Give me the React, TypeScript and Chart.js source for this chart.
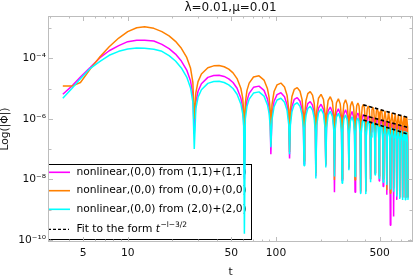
import React, { useEffect, useRef } from 'react';
import { Chart, registerables } from 'chart.js';

Chart.register(...registerables);

const FONT = '"DejaVu Sans", sans-serif';

// time samples (shared by the three curves)
const tValues = [
  3.65, 4.2, 4.8, 5.6, 6.5, 7.5, 8.7, 10, 11.5, 13, 15, 17, 19, 21, 23, 25, 26.5, 27.5, 28.1,
  28.8, 29.8, 31.4, 34.7, 38.0, 41.3, 44.7, 48.0, 51.3, 54.6, 57.9, 59.6, 60.5, 61.2,
  62.1, 63.7, 65.9, 70.5, 76.8, 83.0, 87.6, 89.8, 91.4, 92.3,
  93.9, 97.0, 101.6, 107.9, 114.1, 118.7, 121.9, 123.4,
  125.0, 128.1, 132.7, 139.0, 145.2, 149.8, 153.0, 154.5,
  156.1, 159.2, 163.8, 170.1, 176.3, 180.9, 184.1, 185.6,
  188.1, 193.4, 201.2, 208.9, 214.2, 216.7,
  219.2, 224.5, 232.3, 240.0, 245.3, 247.8,
  250.3, 255.6, 263.4, 271.1, 276.4, 278.9,
  281.4, 286.7, 294.5, 302.2, 307.5, 310.0,
  312.5, 317.8, 325.6, 333.3, 338.6, 341.1,
  344.2, 350.4, 356.7, 362.9, 369.1, 372.2,
  375.3, 381.5, 387.8, 394.0, 400.2, 403.3,
  406.4, 412.6, 418.9, 425.1, 431.3, 434.4,
  437.5, 443.7, 450.0, 456.2, 462.4, 465.5,
  468.6, 474.8, 481.1, 487.3, 493.5, 496.6,
  499.7, 505.9, 512.2, 518.4, 524.6, 527.7,
  532.4, 543.3, 554.1, 558.8,
  563.5, 574.4, 585.2, 589.9,
  594.6, 605.5, 616.3, 621.0,
  625.7, 636.6, 647.4, 652.1,
  656.8, 667.7, 678.5, 683.2,
  687.9, 698.8, 709.6, 714.3,
  719.0, 729.9, 740.7, 745.4,
  750.1, 761.0, 771.8, 776.5,
];

// log10|Phi| : (0,0) from (1,1)+(1,1)  (magenta)
const logPhiFrom11 = [
  -5.19, -4.92, -4.62, -4.30, -3.98, -3.75, -3.58, -3.45, -3.40, -3.40, -3.43, -3.54, -3.68, -3.86, -4.09, -4.39, -4.74, -5.22, -6.5,
  -5.46, -5.09, -4.84, -4.63, -4.57, -4.56, -4.60, -4.68, -4.80, -4.99, -5.31, -5.63, -6.04, -8.0,
  -5.81, -5.40, -5.16, -4.96, -4.92, -5.06, -5.35, -5.63, -6.06, -7.17,
  -5.86, -5.42, -5.20, -5.14, -5.27, -5.54, -6.02, -7.31,
  -6.04, -5.59, -5.36, -5.30, -5.42, -5.69, -6.17, -7.5,
  -6.18, -5.73, -5.50, -5.43, -5.55, -5.81, -6.29, -7.9,
  -6.08, -5.65, -5.52, -5.69, -6.16, -7.55,
  -6.18, -5.74, -5.61, -5.78, -6.25, -8.43,
  -6.24, -5.80, -5.67, -5.84, -6.30, -8.05,
  -6.28, -5.84, -5.70, -5.87, -6.33, -7.65,
  -6.34, -5.90, -5.76, -5.93, -6.39, -8.43,
  -6.30, -5.89, -5.81, -5.91, -6.34, -8.45,
  -6.35, -5.94, -5.86, -5.96, -6.39, -8.4,
  -6.40, -5.99, -5.91, -6.01, -6.44, -8.0,
  -6.44, -6.03, -5.95, -6.05, -6.48, -7.8,
  -6.48, -6.07, -5.99, -6.09, -6.52, -8.06,
  -6.52, -6.11, -6.03, -6.13, -6.56, -8.24,
  -6.40, -6.07, -6.42, -8.51,
  -6.43, -6.10, -6.45, -9.52,
  -6.46, -6.13, -6.48, -9.23,
  -6.49, -6.16, -6.51, -8.68,
  -6.52, -6.19, -6.54, -8.6,
  -6.55, -6.22, -6.57, -8.6,
  -6.57, -6.24, -6.59, -8.6,
  -6.60, -6.27, -6.62, -8.6,
];

// log10|Phi| : (0,0) from (0,0)+(0,0)  (orange)
const logPhiFrom00 = [
  -4.92, -4.92, -4.80, -4.35, -3.95, -3.62, -3.33, -3.12, -2.99, -2.96, -3.01, -3.12, -3.26, -3.44, -3.67, -3.97, -4.32, -4.80, -6.0,
  -5.14, -4.77, -4.52, -4.31, -4.25, -4.24, -4.28, -4.36, -4.48, -4.67, -4.99, -5.31, -5.72, -7.5,
  -5.47, -5.06, -4.82, -4.62, -4.58, -4.72, -5.01, -5.29, -5.72, -6.85,
  -5.54, -5.10, -4.88, -4.82, -4.95, -5.22, -5.70, -7.1,
  -5.71, -5.26, -5.03, -4.97, -5.09, -5.36, -5.84, -7.4,
  -5.85, -5.40, -5.17, -5.10, -5.22, -5.48, -5.96, -7.8,
  -5.75, -5.32, -5.19, -5.36, -5.83, -7.5,
  -5.84, -5.40, -5.27, -5.44, -5.91, -8.02,
  -5.91, -5.47, -5.34, -5.51, -5.97, -8.0,
  -5.95, -5.51, -5.37, -5.54, -6.00, -7.6,
  -6.01, -5.57, -5.43, -5.60, -6.06, -8.02,
  -5.97, -5.56, -5.48, -5.58, -6.01, -8.4,
  -6.02, -5.61, -5.53, -5.63, -6.06, -8.4,
  -6.07, -5.66, -5.58, -5.68, -6.11, -8.0,
  -6.11, -5.70, -5.62, -5.72, -6.15, -7.8,
  -6.15, -5.74, -5.66, -5.76, -6.19, -7.9,
  -6.19, -5.78, -5.70, -5.80, -6.23, -8.0,
  -6.07, -5.74, -6.09, -8.35,
  -6.10, -5.77, -6.12, -8.46,
  -6.13, -5.80, -6.15, -8.3,
  -6.16, -5.83, -6.18, -8.5,
  -6.19, -5.86, -6.21, -8.6,
  -6.22, -5.89, -6.24, -8.6,
  -6.24, -5.91, -6.26, -8.6,
  -6.27, -5.94, -6.29, -8.6,
];

// log10|Phi| : (0,0) from (2,0)+(2,0)  (cyan)
const logPhiFrom20 = [
  -5.32, -5.00, -4.68, -4.33, -4.10, -3.90, -3.77, -3.69, -3.66, -3.67, -3.70, -3.77, -3.91, -4.09, -4.32, -4.62, -4.97, -5.45, -7.0,
  -5.66, -5.29, -5.04, -4.83, -4.77, -4.76, -4.80, -4.88, -5.00, -5.19, -5.51, -5.83, -6.24, -9.8,
  -6.00, -5.59, -5.35, -5.15, -5.11, -5.25, -5.54, -5.82, -6.25, -6.94,
  -6.04, -5.60, -5.38, -5.32, -5.45, -5.72, -6.20, -7.17,
  -6.21, -5.76, -5.53, -5.47, -5.59, -5.86, -6.34, -7.55,
  -6.34, -5.89, -5.66, -5.59, -5.71, -5.97, -6.45, -7.97,
  -6.23, -5.80, -5.67, -5.84, -6.31, -7.61,
  -6.32, -5.88, -5.75, -5.92, -6.39, -7.91,
  -6.39, -5.95, -5.82, -5.99, -6.45, -8.13,
  -6.45, -6.01, -5.87, -6.04, -6.50, -7.70,
  -6.51, -6.07, -5.93, -6.10, -6.56, -7.91,
  -6.47, -6.06, -5.98, -6.08, -6.51, -8.49,
  -6.52, -6.11, -6.03, -6.13, -6.56, -8.49,
  -6.57, -6.16, -6.08, -6.18, -6.61, -8.10,
  -6.61, -6.20, -6.12, -6.22, -6.65, -7.86,
  -6.65, -6.24, -6.16, -6.26, -6.69, -7.97,
  -6.69, -6.28, -6.20, -6.30, -6.73, -8.10,
  -6.57, -6.24, -6.59, -8.19,
  -6.60, -6.27, -6.62, -8.32,
  -6.63, -6.30, -6.65, -8.41,
  -6.66, -6.33, -6.68, -8.57,
  -6.69, -6.36, -6.71, -8.65,
  -6.72, -6.39, -6.74, -8.68,
  -6.74, -6.41, -6.76, -8.68,
  -6.77, -6.44, -6.79, -8.68,
];

// fits to t^(-l-3/2)
const fitT = [388, 780];
const fitLogFrom00 = [-5.54, -5.96];
const fitLogFrom11 = [-5.88, -6.29];
const fitLogFrom20 = [-6.04, -6.51];

const xLabelTicks = [5, 10, 50, 100, 500];
const xMinorTicks = [3, 4, 6, 7, 8, 9, 20, 30, 40, 60, 70, 80, 90, 200, 300, 400, 600, 700, 800];
const yLabelTicks = [1e-4, 1e-6, 1e-8, 1e-10];
const yMinorTicks = [1e-3, 1e-5, 1e-7, 1e-9];

const titleText = 'λ=0.01,μ=0.01';
const xTitle = 't';
const yTitle = 'Log(|Φ|)';
const seriesNames = [
  'nonlinear,(0,0) from (1,1)+(1,1)',
  'nonlinear,(0,0) from (0,0)+(0,0)',
  'nonlinear,(0,0) from (2,0)+(2,0)',
];
const fitName = 'Fit to the form ';
const fitVar = 't';
const fitExponent = '−l−3/2';
const seriesColors = ['#ff00ff', '#ff8000', '#00ffff'];

const SUP: Record<string, string> = {
  '0': '⁰', '1': '¹', '2': '²', '3': '³', '4': '⁴', '5': '⁵', '6': '⁶', '7': '⁷', '8': '⁸', '9': '⁹', '-': '⁻',
};
function powerLabel(v: number): string {
  const e = Math.round(Math.log10(v));
  return '10' + String(e).split('').map((c) => SUP[c] || c).join('');
}

const toPoints = (xs: number[], logs: number[]) => xs.map((x, i) => ({ x, y: Math.pow(10, logs[i]) }));

const legendPlugin = {
  id: 'mmaLegend',
  beforeDatasetsDraw(chart: any) {
    const { ctx, chartArea } = chart;
    const x0 = Math.round(chartArea.left);
    const y0 = Math.round(chartArea.bottom) - 78;
    const w = 203;
    const h = 75;
    ctx.save();
    ctx.fillStyle = '#ffffff';
    ctx.fillRect(x0, y0, w, h);
    ctx.strokeStyle = '#000000';
    ctx.lineWidth = 1;
    ctx.strokeRect(x0 + 0.5, y0 + 0.5, w, h);
    const rows = [8.3, 26.7, 45.3, 65.3];
    const textX = x0 + 28.4;
    ctx.font = `10.7px ${FONT}`;
    ctx.textBaseline = 'middle';
    ctx.textAlign = 'left';
    for (let i = 0; i < 3; i++) {
      const yy = y0 + rows[i];
      ctx.strokeStyle = seriesColors[i];
      ctx.lineWidth = 1.6;
      ctx.beginPath();
      ctx.moveTo(x0, yy);
      ctx.lineTo(x0 + 22, yy);
      ctx.stroke();
      ctx.fillStyle = '#000';
      ctx.fillText(seriesNames[i], textX, yy);
    }
    const yf = y0 + rows[3];
    ctx.strokeStyle = '#000';
    ctx.lineWidth = 1.2;
    ctx.setLineDash([3, 2]);
    ctx.beginPath();
    ctx.moveTo(x0, yf);
    ctx.lineTo(x0 + 21, yf);
    ctx.stroke();
    ctx.setLineDash([]);
    ctx.fillStyle = '#000';
    ctx.fillText(fitName, textX, yf);
    let cx = textX + ctx.measureText(fitName).width;
    ctx.font = `italic 10.7px ${FONT}`;
    ctx.fillText(fitVar, cx, yf);
    cx += ctx.measureText(fitVar).width + 0.5;
    ctx.font = `7.5px ${FONT}`;
    ctx.fillText(fitExponent, cx, yf - 4.5);
    ctx.restore();
  },
};

const framePlugin = {
  id: 'mmaFrame',
  afterDatasetsDraw(chart: any) {
    const { ctx, chartArea, scales } = chart;
    const { left, right, top, bottom } = chartArea;
    const x = scales.x;
    const y = scales.y;
    ctx.save();
    ctx.strokeStyle = '#bdbdbd';
    ctx.lineWidth = 1;
    ctx.strokeRect(left + 0.5, top + 0.5, right - left - 1, bottom - top - 1);
    ctx.beginPath();
    const xt = (v: number, len: number) => {
      const px = Math.round(x.getPixelForValue(v)) + 0.5;
      ctx.moveTo(px, bottom);
      ctx.lineTo(px, bottom - len);
      ctx.moveTo(px, top);
      ctx.lineTo(px, top + len);
    };
    const yt = (v: number, len: number) => {
      const py = Math.round(y.getPixelForValue(v)) + 0.5;
      ctx.moveTo(left, py);
      ctx.lineTo(left + len, py);
      ctx.moveTo(right, py);
      ctx.lineTo(right - len, py);
    };
    xLabelTicks.forEach((v) => xt(v, 5));
    xMinorTicks.forEach((v) => xt(v, 2.5));
    yLabelTicks.forEach((v) => yt(v, 5));
    yMinorTicks.forEach((v) => yt(v, 3.5));
    ctx.stroke();
    ctx.restore();
  },
};

export default function App() {
  const ref = useRef<HTMLCanvasElement>(null);

  useEffect(() => {
    document.body.style.margin = '0';
    const canvas = ref.current;
    if (!canvas) return;
    const lineBase = { pointRadius: 0, borderWidth: 1.5, tension: 0, fill: false, borderJoinStyle: 'bevel' as const };
    const fitBase = { pointRadius: 0, borderWidth: 1.6, borderColor: '#000', borderDash: [3.5, 2.5], fill: false, order: 0 };
    const chart = new Chart(canvas, {
      type: 'line',
      data: {
        datasets: [
          { ...fitBase, label: 'fit (0,0)', data: toPoints(fitT, fitLogFrom00) },
          { ...fitBase, label: 'fit (1,1)', data: toPoints(fitT, fitLogFrom11) },
          { ...fitBase, label: 'fit (2,0)', data: toPoints(fitT, fitLogFrom20) },
          { ...lineBase, label: seriesNames[2], borderColor: seriesColors[2], data: toPoints(tValues, logPhiFrom20), order: 1 },
          { ...lineBase, label: seriesNames[1], borderColor: seriesColors[1], data: toPoints(tValues, logPhiFrom00), order: 2 },
          { ...lineBase, label: seriesNames[0], borderColor: seriesColors[0], data: toPoints(tValues, logPhiFrom11), order: 3 },
        ] as any,
      },
      options: {
        responsive: false,
        devicePixelRatio: 1,
        animation: false,
        events: [],
        layout: { padding: { top: 0, right: 3, bottom: 0, left: 0 } },
        plugins: {
          legend: { display: false },
          tooltip: { enabled: false },
          title: {
            display: true,
            text: titleText,
            color: '#111',
            fullSize: false,
            font: { family: FONT, size: 12, weight: 'normal', lineHeight: 1.2 },
            padding: { top: 1, bottom: 0.6 },
          },
        },
        scales: {
          x: {
            type: 'logarithmic',
            position: 'bottom',
            min: 2.9,
            max: 839,
            afterBuildTicks: (axis: any) => {
              axis.ticks = xLabelTicks.map((value) => ({ value }));
            },
            afterFit: (axis: any) => {
              axis.height = 34;
            },
            grid: { display: false, drawTicks: false },
            border: { display: false },
            ticks: {
              autoSkip: false,
              maxRotation: 0,
              padding: 5,
              color: '#111',
              font: { family: FONT, size: 10.7 },
              callback: (v: any) => String(v),
            },
            title: {
              display: true,
              text: xTitle,
              color: '#111',
              font: { family: FONT, size: 10.7, lineHeight: 0.7 },
              padding: 0,
            },
          },
          y: {
            type: 'logarithmic',
            min: 8.46e-11,
            max: 2.5e-3,
            afterBuildTicks: (axis: any) => {
              axis.ticks = yLabelTicks.map((value) => ({ value }));
            },
            afterFit: (axis: any) => {
              axis.width = 48;
            },
            grid: { display: false, drawTicks: false },
            border: { display: false },
            ticks: {
              autoSkip: false,
              padding: 2,
              color: '#111',
              font: { family: FONT, size: 10.7 },
              callback: (v: any) => powerLabel(Number(v)),
            },
            title: {
              display: true,
              text: yTitle,
              color: '#111',
              font: { family: FONT, size: 10.7, lineHeight: 1.0 },
              padding: 0,
            },
          },
        },
      } as any,
      plugins: [legendPlugin, framePlugin],
    });
    return () => chart.destroy();
  }, []);

  return (
    <div style={{ width: 416, height: 276 }}>
      <canvas ref={ref} width={416} height={276} style={{ display: 'block' }} />
    </div>
  );
}
